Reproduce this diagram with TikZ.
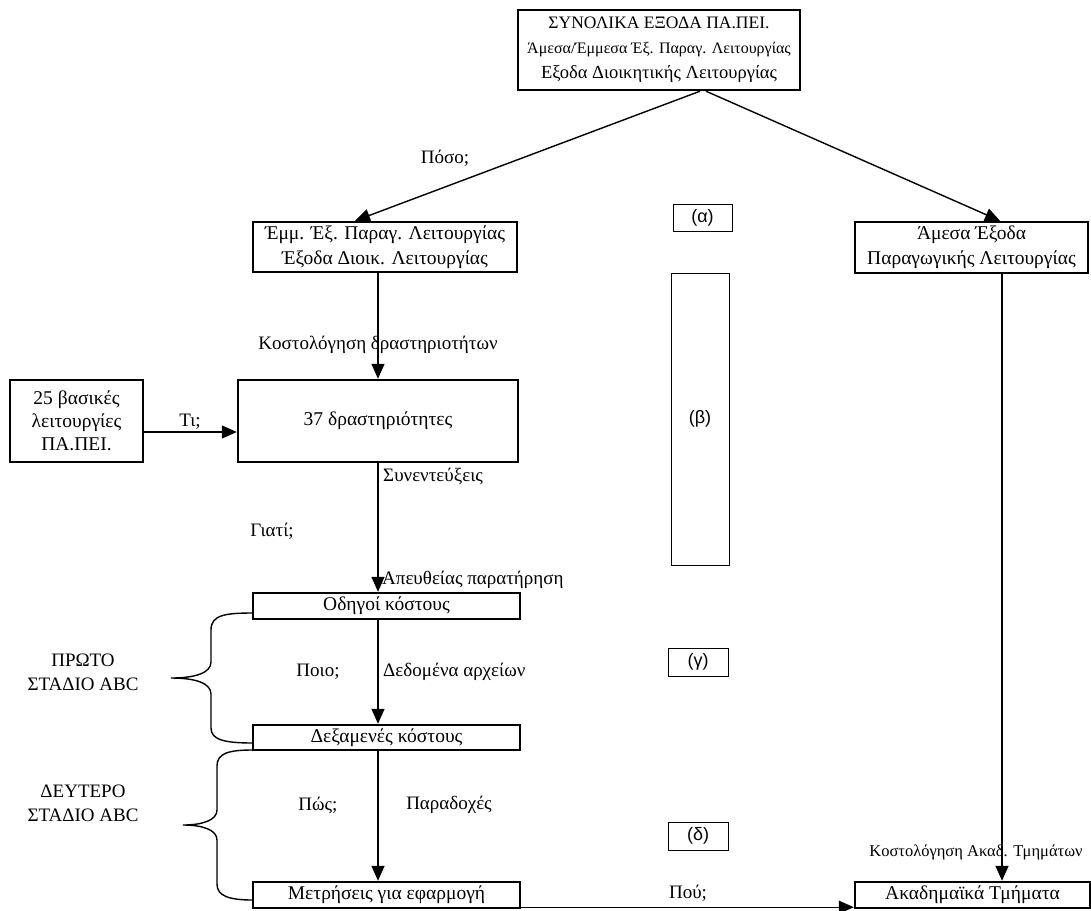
\documentclass[tikz,border=0pt]{standalone}
\usepackage{fontspec}
\setmainfont{Liberation Serif}
\newfontfamily\arialf{Liberation Sans}
\usetikzlibrary{arrows.meta}
\begin{document}
\begin{tikzpicture}[x=1pt,y=-1pt,
  mainbox/.style={draw, line width=2.4pt, inner sep=0pt, align=center, font=\fontsize{19.5}{25}\selectfont},
  tagbox/.style={draw, line width=1pt, inner sep=0pt, font=\arialf\fontsize{18}{21}\selectfont},
  lbl/.style={inner sep=0pt, font=\fontsize{19}{24}\selectfont},
  arr/.style={line width=1.4pt, -{Triangle[length=15pt,width=13pt]}},
  brace/.style={line width=1.4pt}]
\useasboundingbox (0,0) rectangle (1091,910);

% boxes
\node[mainbox, minimum width=282pt, minimum height=80pt] (top) at (659,50)
  {\fontsize{17.5}{24}\selectfont ΣΥΝΟΛΙΚΑ ΕΞΟΔΑ ΠΑ.ΠΕΙ.\\
   {\fontsize{16}{24}\selectfont Άμεσα/Έμμεσα Έξ. Παραγ. Λειτουργίας}\\
   {\fontsize{18.5}{24}\selectfont Εξοδα Διοικητικής Λειτουργίας}};
\node[mainbox, minimum width=264pt, minimum height=50pt] (emm) at (385,247)
  {Έμμ. Έξ. Παραγ. Λειτουργίας\\Έξοδα Διοικ. Λειτουργίας};
\node[mainbox, minimum width=233pt, minimum height=51pt] (amesa) at (971.5,247.5)
  {Άμεσα Έξοδα\\Παραγωγικής Λειτουργίας};
\node[mainbox, minimum width=133pt, minimum height=82pt, font=\fontsize{19.5}{23}\selectfont] (b25) at (76.5,421)
  {25 βασικές\\λειτουργίες\\ΠΑ.ΠΕΙ.};
\node[mainbox, minimum width=280pt, minimum height=82pt] (d37) at (378,421)
  {37 δραστηριότητες};
\node[mainbox, minimum width=267pt, minimum height=26pt] (odigoi) at (386.5,606)
  {Οδηγοί κόστους};
\node[mainbox, minimum width=267pt, minimum height=25pt] (dexam) at (386.5,737.5)
  {Δεξαμενές κόστους};
\node[mainbox, minimum width=267pt, minimum height=26pt] (metr) at (386.5,895)
  {Μετρήσεις για εφαρμογή};
\node[mainbox, minimum width=235pt, minimum height=26pt] (akad) at (972.5,895)
  {Ακαδημαϊκά Τμήματα};

% tag boxes
\node[tagbox, minimum width=59pt, minimum height=27pt] (ta) at (702.5,217.5) {(α)};
\node[tagbox, minimum width=58pt, minimum height=292pt] (tb) at (700,419) {(β)};
\node[tagbox, minimum width=60pt, minimum height=28pt] (tg) at (698,662) {(γ)};
\node[tagbox, minimum width=60pt, minimum height=28pt] (td) at (698,836) {(δ)};

% connectors
\draw[arr] ([xshift=41pt]top.south) -- ([xshift=-30pt]emm.north);
\draw[arr] ([xshift=47pt]top.south) -- ([xshift=28.5pt]amesa.north);
\draw[arr] (emm.south -| d37.north) -- (d37.north);
\draw[arr] ([yshift=-11pt]b25.east) -- ([yshift=-11pt]d37.west);
\draw[arr] (d37.south) -- (odigoi.north -| d37.south);
\draw[arr] (odigoi.south -| d37.south) -- (dexam.north -| d37.south);
\draw[arr] (dexam.south -| d37.south) -- (metr.north -| d37.south);
\coordinate (ax) at (1002,0);
\draw[arr] (amesa.south -| ax) -- (akad.north -| ax);
\draw[arr] ([yshift=2pt]metr.south east) -- ([yshift=2pt]akad.south west);

% labels
\node[lbl] (l1) at (445,158) {Πόσο;};
\node[lbl] (l2) at (378,345) {Κοστολόγηση δραστηριοτήτων};
\node[lbl] (l3) at (190,422) {Τι;};
\node[lbl, anchor=west] (l4) at (383,476) {Συνεντεύξεις};
\node[lbl] (l5) at (272,531) {Γιατί;};
\node[lbl, anchor=west] (l6) at (382,580) {Απευθείας παρατήρηση};
\node[lbl] (l7) at (318,672) {Ποιο;};
\node[lbl, anchor=west] (l8) at (383,672) {Δεδομένα αρχείων};
\node[lbl] (l9) at (318,805) {Πώς;};
\node[lbl] (l10) at (449,805) {Παραδοχές};
\node[lbl] (l11) at (688,893) {Πού;};
\node[lbl, font=\fontsize{16.5}{20}\selectfont] (l12) at (976,852) {Κοστολόγηση Ακαδ. Τμημάτων};
\node[lbl, align=center] (s1) at (83,672) {ΠΡΩΤΟ\\ΣΤΑΔΙΟ ABC};
\node[lbl, align=center] (s2) at (83,803) {ΔΕΥΤΕΡΟ\\ΣΤΑΔΙΟ ABC};

% braces
\draw[brace] (253,613) .. controls (225,613) and (211,615) .. (211,630) -- (211,662)
  .. controls (211,673) and (195,678) .. (171,678)
  .. controls (195,678) and (211,683) .. (211,694) -- (211,728)
  .. controls (211,740) and (225,743) .. (253,743);
\draw[brace] (253,750) .. controls (229,750) and (217,753) .. (217,766) -- (217,810)
  .. controls (217,820) and (203,825) .. (183,825)
  .. controls (203,825) and (217,830) .. (217,840) -- (217,884)
  .. controls (217,896) and (229,900) .. (253,900);
\end{tikzpicture}
\end{document}
